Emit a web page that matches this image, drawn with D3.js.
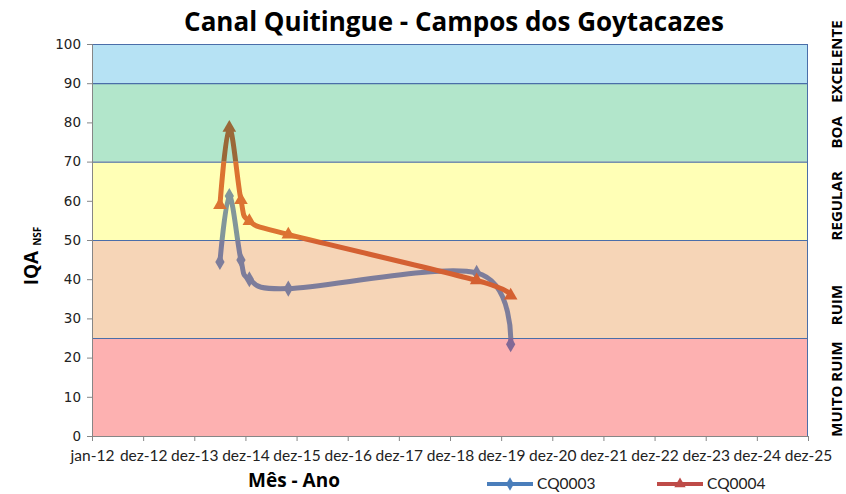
<!DOCTYPE html>
<html>
<head>
<meta charset="utf-8">
<title>Canal Quitingue</title>
<style>
  html, body { margin: 0; padding: 0; background: #fff; }
  svg { display: block; }
  text { font-family: "Lato", "Liberation Sans", sans-serif; fill: #000; }
  .ytick text { font-family: "DejaVu Sans", sans-serif; font-size: 13.5px; fill: #222; }
  .xtick text { font-size: 15.5px; fill: #222; }
  .bold { font-family: "Open Sans", sans-serif; font-weight: bold; }
</style>
</head>
<body>
<script src="https://d3js.org/d3.v7.min.js"></script>
<script>
// sampling dates (shared by both stations)
var dates = ["2014-07-02", "2014-09-07", "2014-11-29", "2015-01-28", "2015-11-02", "2019-07-08", "2020-03-07"];
var cq0003 = [44.4, 61.2, 44.9, 40.0, 37.6, 41.6, 23.4];
var cq0004 = [58.9, 78.6, 60.2, 54.8, 51.4, 39.7, 35.8];

var tickDates = ["2012-01-01", "2012-12-31", "2013-12-31", "2014-12-31", "2015-12-31", "2016-12-30",
  "2017-12-30", "2018-12-30", "2019-12-30", "2020-12-29", "2021-12-29", "2022-12-29",
  "2023-12-29", "2024-12-28", "2025-12-28"];
var tickLabels = ["jan-12", "dez-12", "dez-13", "dez-14", "dez-15", "dez-16", "dez-17", "dez-18",
  "dez-19", "dez-20", "dez-21", "dez-22", "dez-23", "dez-24", "dez-25"];
var yTicks = [0, 10, 20, 30, 40, 50, 60, 70, 80, 90, 100];

// quality classes
var bandLow = [90, 70, 50, 25, 0];
var bandHigh = [100, 90, 70, 50, 25];
var bandNames = ["EXCELENTE", "BOA", "REGULAR", "RUIM", "MUITO RUIM"];
var bandColors = ["#b6e2f4", "#b2e6cb", "#ffffb6", "#f6d5b7", "#fdb1b1"];

var W = 846, H = 494;
var m = {left: 92, right: 38, top: 44, bottom: 58};

var parse = d3.utcParse("%Y-%m-%d");

var svg = d3.select("body").append("svg")
  .attr("width", W)
  .attr("height", H);

var x = d3.scaleUtc()
  .domain([parse(tickDates[0]), parse(tickDates[tickDates.length - 1])])
  .range([m.left, W - m.right]);
var y = d3.scaleLinear()
  .domain([0, 100])
  .range([H - m.bottom, m.top]);

// background bands
svg.append("g").selectAll("rect")
  .data(bandNames)
  .join("rect")
  .attr("x", x.range()[0])
  .attr("width", x.range()[1] - x.range()[0])
  .attr("y", (d, i) => y(bandHigh[i]))
  .attr("height", (d, i) => y(bandLow[i]) - y(bandHigh[i]))
  .attr("fill", (d, i) => bandColors[i]);

// band borders
svg.append("g").selectAll("line")
  .data(bandHigh)
  .join("line")
  .attr("x1", x.range()[0]).attr("x2", x.range()[1])
  .attr("y1", d => y(d) + 0.5).attr("y2", d => y(d) + 0.5)
  .attr("stroke", "#4a6ea9").attr("stroke-width", 1.2);
svg.append("line")
  .attr("x1", x.range()[1] - 0.5).attr("x2", x.range()[1] - 0.5)
  .attr("y1", y(100)).attr("y2", y(0))
  .attr("stroke", "#4a6ea9").attr("stroke-width", 1);

// right side labels (hand-placed text boxes in the original)
var labelShift = [-2, 10, 5, 16, 2];
svg.append("g").selectAll("text")
  .data(bandNames)
  .join("text")
  .attr("class", "bold")
  .attr("transform", (d, i) => "translate(842," + (y((bandLow[i] + bandHigh[i]) / 2) + labelShift[i]) + ") rotate(-90)")
  .attr("text-anchor", "middle")
  .style("font-size", "15px")
  .text(d => d);

// axes
var yAxis = svg.append("g")
  .attr("class", "ytick")
  .attr("transform", "translate(" + m.left + ",0)")
  .call(d3.axisLeft(y).tickValues(yTicks).tickSize(5).tickPadding(6));
yAxis.selectAll("path,line").attr("stroke", "#868686");

var xAxis = svg.append("g")
  .attr("class", "xtick")
  .attr("transform", "translate(0," + y(0) + ")")
  .call(d3.axisBottom(x)
    .tickValues(tickDates.map(parse))
    .tickFormat((d, i) => tickLabels[i])
    .tickSize(5).tickPadding(9));
xAxis.selectAll("path,line").attr("stroke", "#868686");

// series: lines are semi-transparent in the original, imitated by
// multiplying the line colour with the band underneath
var series = [
  {name: "CQ0003", values: cq0003, color: "#8296d8", legend: "#4a7ebb", marker: d3.symbolDiamond, size: 75},
  {name: "CQ0004", values: cq0004, color: "#dc7346", legend: "#be4b48", marker: d3.symbolTriangle, size: 80}
];

function multiply(a, b) {
  var c1 = d3.rgb(a), c2 = d3.rgb(b);
  return d3.rgb(c1.r * c2.r / 255, c1.g * c2.g / 255, c1.b * c2.b / 255).formatHex();
}

var line = d3.line()
  .x(d => x(d[0]))
  .y(d => y(d[1]))
  .curve(d3.curveCardinal.tension(0));

var defs = svg.append("defs");
bandNames.forEach(function(b, i) {
  defs.append("clipPath")
    .attr("id", "band" + i)
    .append("rect")
    .attr("x", 0).attr("width", W)
    .attr("y", i === 0 ? 0 : y(bandHigh[i]))
    .attr("height", (i === bandNames.length - 1 ? H : y(bandLow[i])) - (i === 0 ? 0 : y(bandHigh[i])));
});

var plot = svg.append("g");

series.forEach(function(s) {
  var pts = dates.map((d, i) => [parse(d), s.values[i]]);
  bandNames.forEach(function(b, i) {
    var col = multiply(s.color, bandColors[i]);
    var g = plot.append("g").attr("clip-path", "url(#band" + i + ")");
    g.append("path")
      .datum(pts)
      .attr("fill", "none")
      .attr("stroke", col)
      .attr("stroke-width", 5)
      .attr("stroke-linejoin", "round")
      .attr("d", line);
    g.selectAll(".mk")
      .data(pts)
      .join("path")
      .attr("class", "mk")
      .attr("transform", d => "translate(" + x(d[0]) + "," + y(d[1]) + ")")
      .attr("fill", col)
      .attr("d", d3.symbol(s.marker, s.size));
  });
});

// title
svg.append("text")
  .attr("class", "bold")
  .attr("x", 454).attr("y", 31)
  .attr("text-anchor", "middle")
  .style("font-size", "26px")
  .text("Canal Quitingue - Campos dos Goytacazes");

// y label
var yl = svg.append("text")
  .attr("class", "bold")
  .attr("transform", "translate(38,256) rotate(-90)")
  .attr("text-anchor", "middle");
yl.append("tspan").style("font-size", "19px").text("IQA ");
yl.append("tspan").style("font-size", "10px").attr("dy", 3).text("NSF");

// x label
svg.append("text")
  .attr("class", "bold")
  .attr("x", 294).attr("y", 487)
  .attr("text-anchor", "middle")
  .style("font-size", "19px")
  .text("Mês - Ano");

// legend
var leg = svg.append("g").selectAll("g")
  .data(series)
  .join("g")
  .attr("transform", (d, i) => "translate(" + (487 + i * 170) + ",484)");
leg.append("line")
  .attr("x1", 0).attr("x2", 46)
  .attr("stroke", d => d.legend)
  .attr("stroke-width", 4);
leg.append("path")
  .attr("transform", "translate(23,0)")
  .attr("fill", d => d.legend)
  .attr("d", d => d3.symbol(d.marker, d.size * 0.7)());
leg.append("text")
  .attr("x", 50).attr("y", 5)
  .style("font-size", "15.5px")
  .style("fill", "#222")
  .text(d => d.name);
</script>
</body>
</html>
